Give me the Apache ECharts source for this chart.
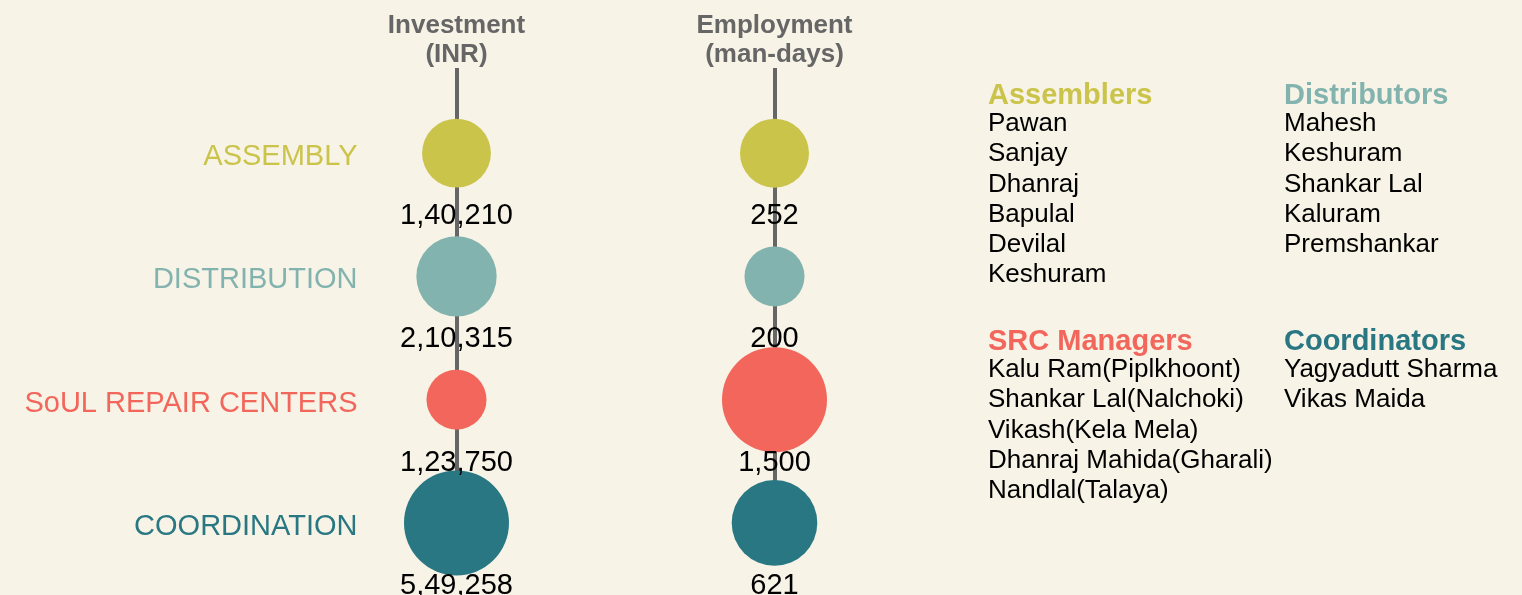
<!DOCTYPE html>
<html>
<head>
<meta charset="utf-8">
<script src="https://cdn.jsdelivr.net/npm/echarts@6/dist/echarts.min.js"></script>
<style>
html,body{margin:0;padding:0;background:#f7f3e6;}
#chart{width:1522px;height:595px;}
</style>
</head>
<body>
<div id="chart"></div>
<script>
// ---- data ----
var categories = ['ASSEMBLY', 'DISTRIBUTION', 'SoUL REPAIR CENTERS', 'COORDINATION'];
var columnHeaders = ['Investment\n(INR)', 'Employment\n(man-days)'];
var investment = [140210, 210315, 123750, 549258];
var employment = [252, 200, 1500, 621];
var groupTitles = ['Assemblers', 'Distributors', 'SRC Managers', 'Coordinators'];
var assemblers = ['Pawan', 'Sanjay', 'Dhanraj', 'Bapulal', 'Devilal', 'Keshuram'];
var distributors = ['Mahesh', 'Keshuram', 'Shankar Lal', 'Kaluram', 'Premshankar'];
var srcManagers = ['Kalu Ram(Piplkhoont)', 'Shankar Lal(Nalchoki)', 'Vikash(Kela Mela)', 'Dhanraj Mahida(Gharali)', 'Nandlal(Talaya)'];
var coordinators = ['Yagyadutt Sharma', 'Vikas Maida'];

// ---- styles ----
var colors = ['#cbc44b', '#82b3af', '#f2665b', '#297783'];
var FONT = '"Liberation Sans", Arial, sans-serif';

function indian(n) {
  var s = String(Math.round(n));
  if (s.length <= 3) return s;
  var last3 = s.slice(-3), rest = s.slice(0, -3);
  rest = rest.replace(/\B(?=(\d{2})+(?!\d))/g, ',');
  return rest + ',' + last3;
}
function sizer(arr) {
  var mn = Math.min.apply(null, arr), mx = Math.max.apply(null, arr);
  return function (val) {
    return 60 + 45 * Math.sqrt((val[2] - mn) / (mx - mn));
  };
}
function seriesFor(arr, xi) {
  return {
    type: 'scatter',
    xAxisIndex: 0, yAxisIndex: 0,
    data: arr.map(function (v, i) { return [xi, i, v]; }),
    symbolSize: sizer(arr),
    itemStyle: { color: function (p) { return colors[p.dataIndex]; }, opacity: 1 },
    label: {
      show: true, position: 'inside', offset: [0, 63],
      formatter: function (p) { return indian(p.value[2]); },
      color: '#000', fontSize: 29, fontFamily: FONT
    },
    emphasis: { disabled: true },
    z: 3
  };
}
function block(title, names, color, left, top) {
  return {
    text: title, subtext: names.join('\n'),
    left: left, top: top, padding: 0, itemGap: -2,
    textStyle: { color: color, fontSize: 29, fontWeight: 'bold', fontFamily: FONT, lineHeight: 30 },
    subtextStyle: { color: '#000', fontSize: 26, fontFamily: FONT, lineHeight: 30.2 }
  };
}
var catRich = {};
colors.forEach(function (c, i) {
  catRich['c' + i] = { color: c, fontSize: 29, fontFamily: FONT, padding: [8, 0, 0, 0] };
});

var chart = echarts.init(document.getElementById('chart'));
chart.setOption({
  backgroundColor: '#f7f3e6',
  animation: false,
  title: [
    block(groupTitles[0], assemblers, colors[0], 988, 81),
    block(groupTitles[1], distributors, colors[1], 1284, 81),
    block(groupTitles[2], srcManagers, colors[2], 988, 327),
    block(groupTitles[3], coordinators, colors[3], 1284, 327)
  ],
  grid: [
    { left: 456.5, width: 318, top: 91.5, height: 493 },
    { left: 456.5, width: 318, top: 68, height: 454 }
  ],
  xAxis: [
    { gridIndex: 0, type: 'value', min: 0, max: 1, show: false },
    {
      gridIndex: 1, type: 'value', min: 0, max: 1, interval: 1, position: 'top',
      axisLine: { show: false }, axisTick: { show: false },
      splitLine: { show: true, lineStyle: { color: '#666', width: 4 } },
      axisLabel: {
        show: true, margin: -1, color: '#666', fontSize: 26, fontWeight: 'bold',
        fontFamily: FONT, lineHeight: 29,
        formatter: function (v) { return columnHeaders[Math.round(v)]; }
      }
    }
  ],
  yAxis: [
    {
      gridIndex: 0, type: 'category', data: categories, inverse: true,
      axisLine: { show: false }, axisTick: { show: false }, splitLine: { show: false },
      axisLabel: {
        margin: 99, fontSize: 29, fontFamily: FONT,
        formatter: function (v, i) { return '{c' + i + '|' + v + '}'; },
        rich: catRich
      }
    },
    { gridIndex: 1, type: 'value', min: 0, max: 1, show: false }
  ],
  series: [seriesFor(investment, 0), seriesFor(employment, 1)]
});
</script>
</body>
</html>
